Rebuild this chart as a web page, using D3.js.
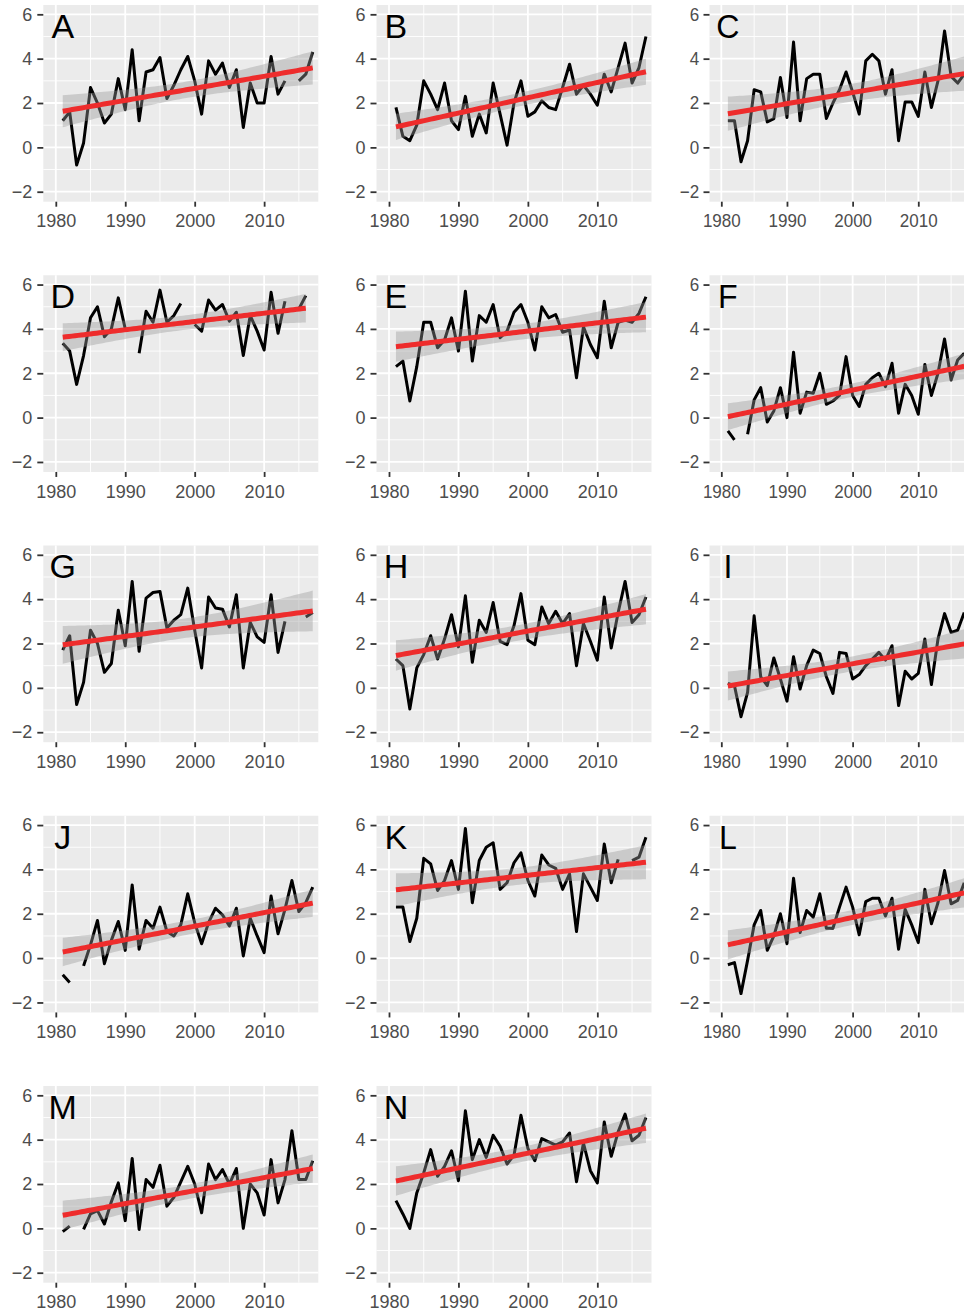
<!DOCTYPE html>
<html>
<head>
<meta charset="utf-8">
<script src="https://d3js.org/d3.v7.min.js"></script>
<style>
  body { margin: 0; background: #fff; }
  text { font-family: "Liberation Sans", Arial, sans-serif; }
</style>
</head>
<body>
<script>
  // yearly values, one array per panel (null = missing year)
  const years = [1981, 1982, 1983, 1984, 1985, 1986, 1987, 1988, 1989, 1990,
    1991, 1992, 1993, 1994, 1995, 1996, 1997, 1998, 1999, 2000,
    2001, 2002, 2003, 2004, 2005, 2006, 2007, 2008, 2009, 2010,
    2011, 2012, 2013, 2014, 2015, 2016, 2017];

  const letters = ["A", "B", "C", "D", "E", "F", "G", "H", "I", "J", "K", "L", "M", "N"];

  const seriesA = [1.2, 1.6, -0.8, 0.2, 2.7, 2.0, 1.1, 1.5, 3.1, 1.7, 4.4, 1.2, 3.4, 3.5, 4.05, 2.2, 2.8, 3.5, 4.1, 3.0, 1.5, 3.9, 3.3, 3.8, 2.7, 3.5, 0.9, 2.9, 2.0, 2.0, 4.1, 2.4, 3.0, null, 3.0, 3.3, 4.3];
  const seriesB = [1.8, 0.5, 0.3, 1.0, 3.0, 2.4, 1.7, 2.9, 1.2, 0.8, 2.3, 0.5, 1.5, 0.65, 2.9, 1.5, 0.1, 2.0, 3.0, 1.4, 1.6, 2.1, 1.8, 1.7, 2.7, 3.75, 2.4, 2.8, 2.4, 1.9, 3.3, 2.5, 3.6, 4.7, 2.9, 3.6, 5.0];
  const seriesC = [1.2, 1.2, -0.65, 0.3, 2.6, 2.5, 1.15, 1.3, 3.15, 1.35, 4.75, 1.2, 3.1, 3.3, 3.3, 1.3, 2.0, 2.6, 3.4, 2.5, 1.5, 3.9, 4.2, 3.9, 2.4, 3.5, 0.3, 2.05, 2.05, 1.4, 3.4, 1.8, 3.0, 5.25, 3.2, 2.9, 3.3];
  const seriesD = [3.35, 3.0, 1.5, 2.8, 4.5, 5.0, 3.65, 4.0, 5.4, 4.0, null, 2.9, 4.8, 4.3, 5.75, 4.3, 4.6, 5.15, null, 4.2, 3.9, 5.3, 4.85, 5.1, 4.35, 4.75, 2.8, 4.6, 3.9, 3.05, 5.65, 3.8, 5.25, null, 4.9, 5.5, null];
  const seriesE = [2.3, 2.55, 0.75, 2.3, 4.3, 4.3, 3.15, 3.5, 4.5, 3.0, 5.7, 2.55, 4.6, 4.3, 5.1, 3.6, 3.9, 4.75, 5.1, 4.3, 3.05, 5.0, 4.5, 4.65, 3.85, 3.95, 1.8, 4.1, 3.3, 2.7, 5.25, 3.15, 4.3, 4.4, 4.3, 4.7, 5.45];
  const seriesF = [-0.6, -1.0, null, -0.75, 0.8, 1.35, -0.2, 0.3, 1.35, 0.0, 2.95, 0.2, 1.15, 1.1, 2.0, 0.6, 0.75, 1.0, 2.75, 1.0, 0.5, 1.5, 1.8, 2.0, 1.4, 2.45, 0.2, 1.5, 1.0, 0.15, 2.4, 1.0, 2.0, 3.55, 1.7, 2.6, 2.9];
  const seriesG = [1.7, 2.35, -0.75, 0.25, 2.6, 2.0, 0.7, 1.1, 3.5, 1.9, 4.8, 1.65, 4.05, 4.3, 4.35, 2.7, 3.05, 3.3, 4.5, 2.6, 0.9, 4.1, 3.6, 3.55, 2.75, 4.2, 0.9, 2.95, 2.3, 2.05, 4.2, 1.6, 3.0, null, null, 3.2, 3.4];
  const seriesH = [1.3, 1.0, -0.95, 0.9, 1.5, 2.35, 1.3, 2.2, 3.3, 1.85, 4.15, 1.15, 3.05, 2.5, 3.85, 2.1, 1.95, 2.8, 4.25, 2.15, 1.95, 3.65, 2.9, 3.45, 2.9, 3.35, 1.0, 2.9, 2.1, 1.25, 4.1, 1.8, 3.4, 4.8, 2.95, 3.3, 4.1];
  const seriesI = [0.2, 0.1, -1.3, -0.2, 3.25, 0.5, 0.1, 1.35, 0.4, -0.6, 1.4, -0.05, 1.0, 1.7, 1.55, 0.5, -0.25, 1.6, 1.55, 0.4, 0.6, 1.0, 1.3, 1.6, 1.25, 1.9, -0.8, 0.75, 0.4, 0.65, 2.2, 0.15, 2.2, 3.35, 2.5, 2.6, 3.4];
  const seriesJ = [-0.75, -1.1, null, -0.35, 0.6, 1.7, -0.25, 0.8, 1.65, 0.35, 3.3, 0.4, 1.7, 1.35, 2.3, 1.2, 1.0, 1.5, 2.9, 1.6, 0.65, 1.6, 2.25, 1.95, 1.45, 2.25, 0.1, 1.8, 1.0, 0.25, 2.8, 1.1, 2.2, 3.5, 2.1, 2.5, 3.2];
  const seriesK = [2.3, 2.3, 0.75, 1.8, 4.5, 4.25, 3.05, 3.5, 4.4, 3.1, 5.85, 2.5, 4.4, 5.0, 5.2, 3.1, 3.4, 4.3, 4.75, 3.5, 2.8, 4.65, 4.2, 4.05, 3.1, 3.8, 1.2, 3.8, 3.2, 2.6, 5.15, 3.4, 4.45, null, 4.4, 4.55, 5.45];
  const seriesL = [-0.3, -0.2, -1.6, -0.1, 1.5, 2.15, 0.35, 1.0, 2.0, 0.65, 3.6, 1.15, 2.15, 1.85, 2.9, 1.35, 1.35, 2.3, 3.2, 2.3, 1.05, 2.55, 2.7, 2.7, 1.9, 2.7, 0.4, 2.2, 1.5, 0.7, 3.1, 1.55, 2.5, 3.95, 2.45, 2.6, 3.4];
  const seriesM = [-0.15, 0.1, null, -0.05, 0.65, 0.8, 0.2, 1.2, 2.05, 0.35, 3.15, -0.05, 2.2, 1.85, 2.85, 1.0, 1.4, 2.1, 2.8, 2.0, 0.7, 2.9, 2.2, 2.65, 2.0, 2.7, 0.0, 2.0, 1.6, 0.6, 3.1, 1.15, 2.2, 4.4, 2.2, 2.2, 3.05];
  const seriesN = [1.25, 0.65, 0.0, 1.6, 2.5, 3.55, 2.35, 2.8, 3.5, 2.15, 5.3, 3.1, 4.0, 3.2, 4.2, 3.7, 2.9, 3.3, 5.1, 3.6, 3.05, 4.05, 3.9, 3.75, 3.9, 4.3, 2.1, 3.85, 2.6, 2.05, 4.8, 3.25, 4.35, 5.15, 3.95, 4.2, 5.0];

  const xTicks = [1980, 1990, 2000, 2010];
  const xMinor = [1985, 1995, 2005, 2015];
  const yTicks = [-2, 0, 2, 4, 6];
  const yMinor = [-1, 1, 3, 5];

  const allSeries = [seriesA, seriesB, seriesC, seriesD, seriesE, seriesF, seriesG,
    seriesH, seriesI, seriesJ, seriesK, seriesL, seriesM, seriesN];

  const width = 964, height = 1312;
  const colLeft = [43.3, 376.5, 709.5];
  const colWidth = [275, 275, 260];
  const rowTop = 5, rowStep = 270.25, panelH = 196.7;

  const svg = d3.select("body").append("svg")
    .attr("width", width)
    .attr("height", height);

  allSeries.forEach(function(series, i) {
    const col = i % 3, row = Math.floor(i / 3);
    const w = colWidth[col];
    const sx = w / 275; // third column is squeezed a bit in the original

    const x = d3.scaleLinear().domain([1978.2, 2017.8]).range([0, w]);
    const y = d3.scaleLinear().domain([-2.45, 6.42]).range([panelH, 0]);

    const g = svg.append("g")
      .attr("transform", "translate(" + colLeft[col] + "," + (rowTop + row * rowStep) + ")");

    g.append("rect")
      .attr("width", w)
      .attr("height", panelH)
      .attr("fill", "#EBEBEB");

    // grid
    g.selectAll(".gxm").data(xMinor).enter().append("line")
      .attr("x1", d => x(d)).attr("x2", d => x(d))
      .attr("y1", 0).attr("y2", panelH)
      .attr("stroke", "white").attr("stroke-width", 0.9);
    g.selectAll(".gym").data(yMinor).enter().append("line")
      .attr("x1", 0).attr("x2", w)
      .attr("y1", d => y(d)).attr("y2", d => y(d))
      .attr("stroke", "white").attr("stroke-width", 0.9);
    g.selectAll(".gx").data(xTicks).enter().append("line")
      .attr("x1", d => x(d)).attr("x2", d => x(d))
      .attr("y1", 0).attr("y2", panelH)
      .attr("stroke", "white").attr("stroke-width", 1.8);
    g.selectAll(".gy").data(yTicks).enter().append("line")
      .attr("x1", 0).attr("x2", w)
      .attr("y1", d => y(d)).attr("y2", d => y(d))
      .attr("stroke", "white").attr("stroke-width", 1.8);

    const clipId = "clip" + i;
    g.append("clipPath").attr("id", clipId)
      .append("rect").attr("width", w).attr("height", panelH);
    const plot = g.append("g").attr("clip-path", "url(#" + clipId + ")");

    const pts = years.map((yr, j) => ({ yr: yr, v: series[j] }));

    const line = d3.line()
      .defined(d => d.v !== null)
      .x(d => x(d.yr))
      .y(d => y(d.v));

    plot.append("path")
      .datum(pts)
      .attr("d", line)
      .attr("fill", "none")
      .attr("stroke", "black")
      .attr("stroke-width", 3)
      .attr("stroke-linejoin", "round");

    // linear fit with 95% band, like geom_smooth(method = "lm")
    const ok = pts.filter(d => d.v !== null);
    const n = ok.length;
    const mx = d3.mean(ok, d => d.yr), my = d3.mean(ok, d => d.v);
    const sxx = d3.sum(ok, d => (d.yr - mx) * (d.yr - mx));
    const sxy = d3.sum(ok, d => (d.yr - mx) * (d.v - my));
    const b = sxy / sxx, a = my - b * mx;
    const sse = d3.sum(ok, d => Math.pow(d.v - (a + b * d.yr), 2));
    const s = Math.sqrt(sse / (n - 2));
    const tq = 2.03;
    const x0 = d3.min(ok, d => d.yr), x1 = d3.max(ok, d => d.yr);
    const fit = d3.range(80).map(function(k) {
      const xv = x0 + (x1 - x0) * k / 79;
      const yh = a + b * xv;
      const se = s * Math.sqrt(1 / n + (xv - mx) * (xv - mx) / sxx);
      return { xv: xv, yh: yh, lo: yh - tq * se, hi: yh + tq * se };
    });

    plot.append("path")
      .datum(fit)
      .attr("d", d3.area().x(d => x(d.xv)).y0(d => y(d.lo)).y1(d => y(d.hi)))
      .attr("fill", "#999999")
      .attr("fill-opacity", 0.4);

    plot.append("path")
      .datum(fit)
      .attr("d", d3.line().x(d => x(d.xv)).y(d => y(d.yh)))
      .attr("fill", "none")
      .attr("stroke", "#EE2C2C")
      .attr("stroke-width", 5);

    // panel letter
    g.append("text")
      .attr("transform", "translate(" + x(1981) + "," + (y(5.5) + 12.5) + ") scale(" + sx + ",1)")
      .attr("text-anchor", "middle")
      .attr("font-size", "34px")
      .attr("fill", "black")
      .text(letters[i]);

    // axes
    const yAxis = g.append("g")
      .call(d3.axisLeft(y).tickValues(yTicks).tickSize(6).tickPadding(5));
    const xAxis = g.append("g")
      .attr("transform", "translate(0," + panelH + ")")
      .call(d3.axisBottom(x).tickValues(xTicks).tickFormat(d3.format("d")).tickSize(5).tickPadding(8));

    [yAxis, xAxis].forEach(function(ax) {
      ax.select(".domain").remove();
      ax.selectAll(".tick line").attr("stroke", "#333333").attr("stroke-width", 1.8);
      ax.selectAll(".tick text")
        .attr("fill", "#4D4D4D")
        .attr("font-size", "18px")
        .attr("font-family", "'Liberation Sans', Arial, sans-serif")
        .attr("transform", "scale(" + sx + ",1)");
    });
  });
</script>
</body>
</html>
